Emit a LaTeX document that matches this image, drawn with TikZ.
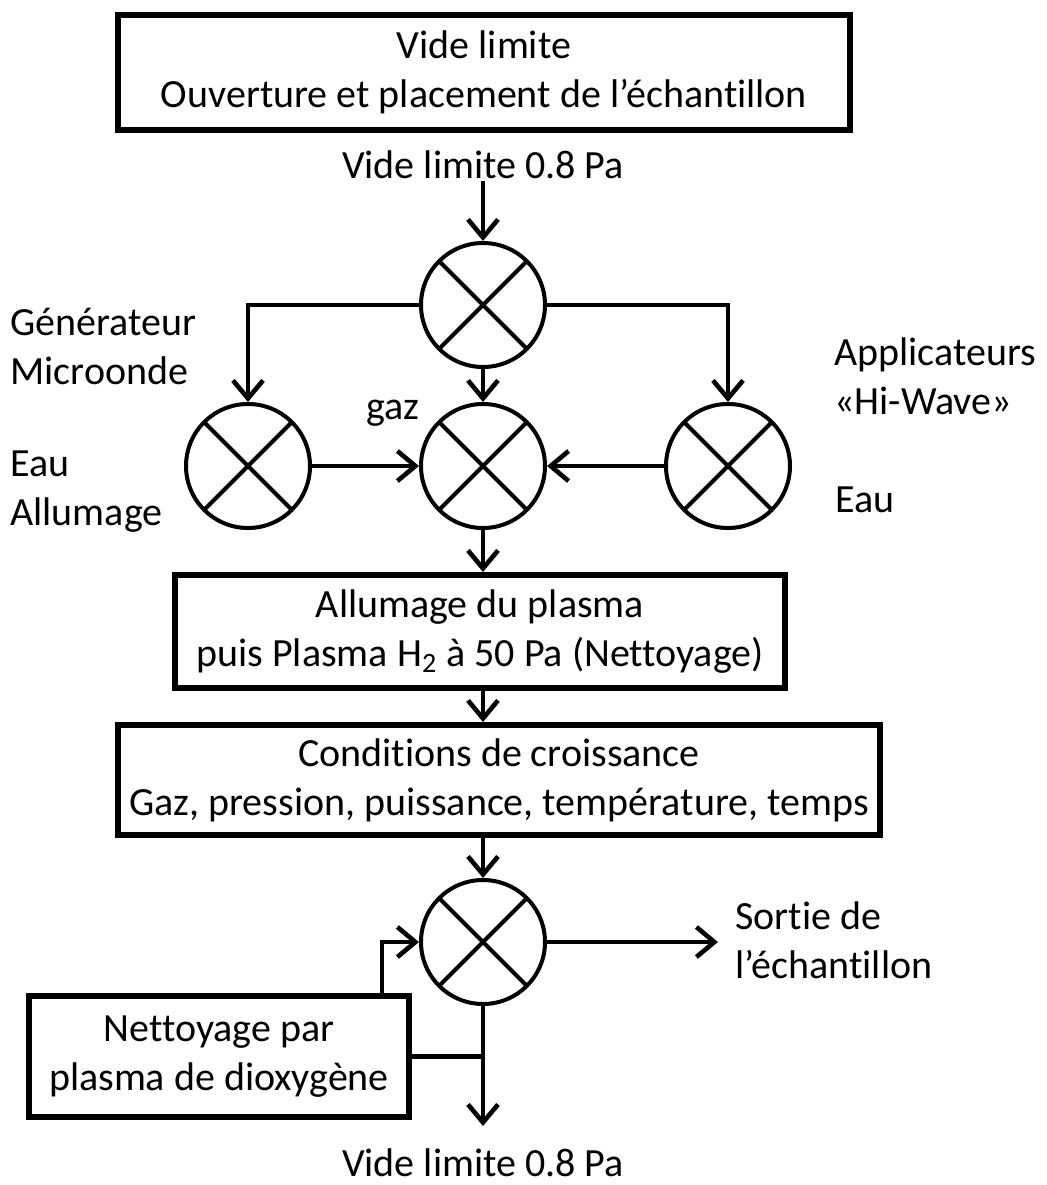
\documentclass[tikz,border=0pt]{standalone}
\usepackage{fontspec}
\setmainfont{Carlito}[Ligatures=NoCommon]
\usetikzlibrary{arrows.meta,positioning,calc}
\tikzset{
  flowarrow/.style={-{Straight Barb[length=9pt,width=15pt]}, line width=2.3pt},
  plainline/.style={line width=2.3pt},
  stepbox/.style={draw, line width=3pt, align=center, inner sep=0pt, font=\fontsize{20}{24.5}\selectfont},
  valvenode/.style={circle, draw, line width=2pt, minimum size=62pt, inner sep=0pt,
    path picture={\draw[line width=2pt] (path picture bounding box.north west) -- (path picture bounding box.south east)
      (path picture bounding box.north east) -- (path picture bounding box.south west);}},
  labeltxt/.style={font=\fontsize{20}{24.5}\selectfont, align=left, inner sep=1pt},
}
\begin{document}
\begin{tikzpicture}[x=0.5pt,y=-0.5pt]
\useasboundingbox (0,0) rectangle (1046,1185);

\node[stepbox,minimum width=366pt,minimum height=57.5pt] (start) at (484,72.5) {Vide limite\\Ouverture et placement de l’échantillon};
\node[labeltxt,align=center] (vide1) at (483,165) {Vide limite 0.8 Pa};

% vannes
\node[valvenode] (vtop) at (483,305) {};
\node[valvenode] (vleft) at (248,466) {};
\node[valvenode] (vmid) at (483,466) {};
\node[valvenode] (vright) at (728,466) {};

\node[labeltxt,anchor=west] (gen) at (8,346) {Générateur\\Microonde};
\node[labeltxt,anchor=west] (eauL) at (8,492) {Eau\\Allumage};
\node[labeltxt,anchor=west] (appli) at (832,376) {Applicateurs\\«Hi-Wave»};
\node[labeltxt,anchor=west] (eauR) at (833,500) {Eau};
\node[labeltxt] (gaz) at (393,413) {gaz};

\node[stepbox,minimum width=305pt,minimum height=56.5pt] (plasma) at (480,631.5) {Allumage du plasma\\puis Plasma H\textsubscript{2} à 50 Pa (Nettoyage)};
\node[stepbox,minimum width=381pt,minimum height=55pt] (growth) at (499,780) {Conditions de croissance\\Gaz, pression, puissance, température, temps};

\node[valvenode] (vbot) at (483,942) {};
\node[stepbox,minimum width=190pt,minimum height=60.5pt] (oxy) at (219,1056.5) {Nettoyage par\\plasma de dioxygène};
\node[labeltxt,anchor=west] (sortie) at (733,940) {Sortie de\\l’échantillon};
\node[labeltxt,align=center] (vide2) at (483,1163) {Vide limite 0.8 Pa};
\coordinate (sortieend) at (718,942);
\coordinate (ventout) at (483,1126);

% fleches
\draw[flowarrow] (vide1.south) -- (vtop.north);
\draw[flowarrow] (vtop.west) -| (vleft.north);
\draw[flowarrow] (vtop.east) -| (vright.north);
\draw[flowarrow] (vtop) -- (vmid);
\draw[flowarrow] (vleft) -- (vmid);
\draw[flowarrow] (vright) -- (vmid);
\draw[flowarrow] (vmid.south) -- (vmid.south |- plasma.north);
\draw[flowarrow] (plasma.south -| vmid) -- (growth.north -| vmid);
\draw[flowarrow] (growth.south -| vbot) -- (vbot.north);
\draw[flowarrow] (vbot.east) -- (sortieend);
\draw[flowarrow] ([xshift=-15pt]oxy.north east) |- (vbot.west);
\draw[flowarrow] (vbot.south) -- (ventout);
\draw[plainline] (oxy.east) -- (oxy.east -| vbot);
\end{tikzpicture}
\end{document}
